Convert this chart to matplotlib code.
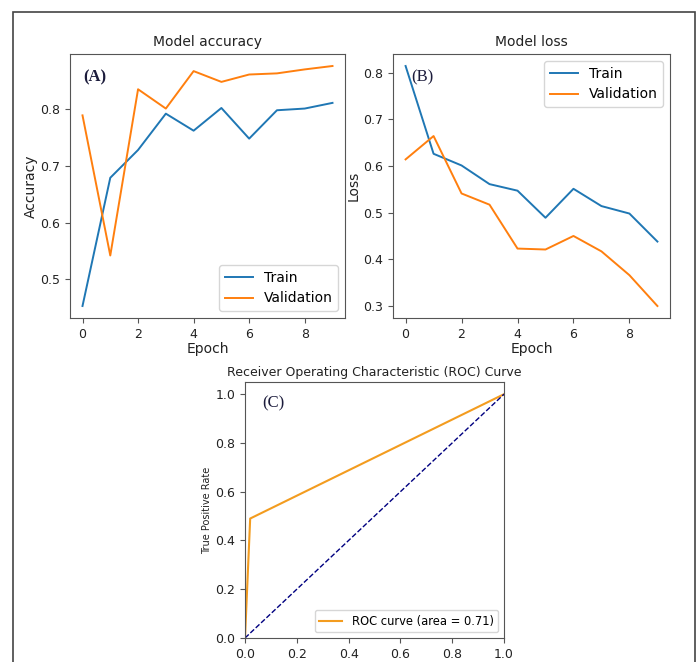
import matplotlib
matplotlib.use("Agg")
import matplotlib.pyplot as plt
from matplotlib.patches import Rectangle

# ---- data ----
epochs = list(range(10))
acc_train = [0.453, 0.679, 0.728, 0.792, 0.762, 0.802, 0.748, 0.798, 0.801, 0.811]
acc_val = [0.789, 0.542, 0.835, 0.801, 0.867, 0.848, 0.861, 0.863, 0.870, 0.876]
loss_train = [0.814, 0.626, 0.601, 0.561, 0.547, 0.489, 0.551, 0.514, 0.498, 0.438]
loss_val = [0.614, 0.664, 0.541, 0.517, 0.423, 0.421, 0.450, 0.417, 0.366, 0.300]
fpr = [0.0, 0.02, 1.0]
tpr = [0.0, 0.49, 1.0]
roc_auc = 0.71
series_names = ["Train", "Validation"]

W, H = 699, 662
fig = plt.figure(figsize=(W / 100, H / 100), dpi=100)
fig.patch.set_facecolor("white")

def px_axes(l, t, r, b):
    return fig.add_axes([l / W, (H - b) / H, (r - l) / W, (b - t) / H])

# outer frame
fig.patches.append(Rectangle((13 / W, -0.05), (695 - 13) / W, (H - 12) / H + 0.05,
                             transform=fig.transFigure, fill=False,
                             edgecolor="#444444", linewidth=1.2, zorder=0))

spine_c = "#555555"
lab_c = "#222222"
panel_c = "#1c1c3c"

def style(ax, tick_fs):
    for s in ax.spines.values():
        s.set_color(spine_c)
    ax.tick_params(labelsize=tick_fs, colors=lab_c, color=spine_c)

# ---- Panel A ----
axA = px_axes(70, 54, 345, 318)
axA.plot(epochs, acc_train, color="tab:blue", lw=1.4, label=series_names[0])
axA.plot(epochs, acc_val, color="tab:orange", lw=1.4, label=series_names[1])
axA.set_title("Model accuracy", fontsize=10, color=lab_c)
axA.set_xlabel("Epoch", fontsize=10, color=lab_c, labelpad=1)
axA.set_ylabel("Accuracy", fontsize=10, color=lab_c, labelpad=2)
axA.set_xticks([0, 2, 4, 6, 8])
axA.set_yticks([0.5, 0.6, 0.7, 0.8])
style(axA, 9)
axA.legend(loc="lower right", fontsize=10)
axA.text(0.09, 0.913, "(A)", transform=axA.transAxes, ha="center", va="center",
         fontsize=12, fontweight="bold", family="Liberation Serif", color=panel_c)

# ---- Panel B ----
axB = px_axes(393, 54, 670, 318)
axB.plot(epochs, loss_train, color="tab:blue", lw=1.4, label=series_names[0])
axB.plot(epochs, loss_val, color="tab:orange", lw=1.4, label=series_names[1])
axB.set_title("Model loss", fontsize=10, color=lab_c)
axB.set_xlabel("Epoch", fontsize=10, color=lab_c, labelpad=1)
axB.set_ylabel("Loss", fontsize=10, color=lab_c, labelpad=2)
axB.set_xticks([0, 2, 4, 6, 8])
axB.set_yticks([0.3, 0.4, 0.5, 0.6, 0.7, 0.8])
style(axB, 9)
axB.legend(loc="upper right", fontsize=10)
axB.text(0.105, 0.913, "(B)", transform=axB.transAxes, ha="center", va="center",
         fontsize=12, family="Liberation Serif", color=panel_c)

# ---- Panel C ----
axC = px_axes(245, 382, 504, 638)
axC.plot(fpr, tpr, color="#f39c1f", lw=1.5,
         label="ROC curve (area = %0.2f)" % roc_auc)
axC.plot([0, 1], [0, 1], color="navy", lw=1, linestyle="--")
axC.set_xlim(0.0, 1.0)
axC.set_ylim(0.0, 1.05)
axC.set_title("Receiver Operating Characteristic (ROC) Curve", fontsize=9,
              color=lab_c, pad=4)
axC.set_xlabel("False Positive Rate", fontsize=7, color=lab_c, labelpad=1)
axC.set_ylabel("True Positive Rate", fontsize=7, color=lab_c, labelpad=2)
style(axC, 9)
axC.legend(loc="lower right", fontsize=8.3)
axC.text(0.108, 0.918, "(C)", transform=axC.transAxes, ha="center", va="center",
         fontsize=12, family="Liberation Serif", color=panel_c)

fig.savefig("out.png", dpi=100)
